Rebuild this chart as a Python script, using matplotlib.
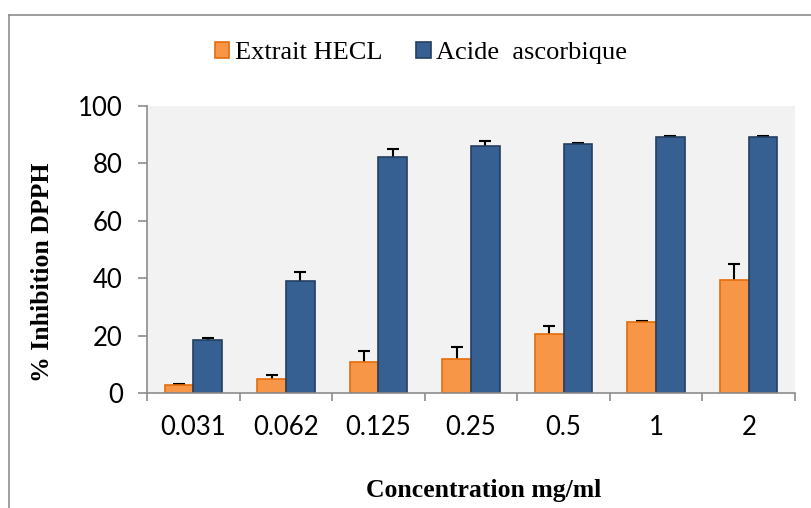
import matplotlib
matplotlib.use("Agg")
import matplotlib.pyplot as plt
import numpy as np
from matplotlib.patches import Patch
from matplotlib.lines import Line2D

categories = ["0.031", "0.062", "0.125", "0.25", "0.5", "1", "2"]
extrait = [2.9, 4.9, 10.8, 12.0, 20.5, 24.8, 39.4]
extrait_err = [0.3, 1.2, 4.0, 4.0, 2.7, 0.2, 5.4]
acide = [18.3, 38.9, 82.4, 85.9, 86.9, 89.2, 89.2]
acide_err = [0.7, 3.3, 2.5, 1.8, 0.2, 0.2, 0.2]

serif = ["Liberation Serif", "DejaVu Serif"]
sans = ["Lato", "DejaVu Sans"]

fig = plt.figure(figsize=(8.11, 5.08), dpi=100)
ax = fig.add_axes([147 / 811, 1 - 393 / 508, 648 / 811, 287 / 508])
ax.set_facecolor("#F2F2F2")

x = np.arange(len(categories))
w = 0.31
# symmetric error bars drawn under the bars, so only the upper half shows
ax.bar(x - w / 2, extrait, w, color="#F79646", edgecolor="#E46C0A", linewidth=1.2, zorder=3)
ax.bar(x + w / 2, acide, w, color="#376092", edgecolor="#243F60", linewidth=1.2, zorder=3)
ax.errorbar(x - w / 2, extrait, yerr=extrait_err, fmt="none",
            ecolor="black", elinewidth=1.5, capsize=4, capthick=1.5, zorder=2)
ax.errorbar(x + w / 2, acide, yerr=acide_err, fmt="none",
            ecolor="black", elinewidth=1.5, capsize=4, capthick=1.5, zorder=2)

ax.set_xlim(-0.5, len(categories) - 0.5)
ax.set_ylim(0, 100)
ax.set_yticks(np.arange(0, 101, 20))
ax.set_xticks(np.arange(-0.5, len(categories), 1.0))
ax.set_xticklabels([])
ax.set_xticks(x, minor=True)
ax.set_xticklabels(categories, minor=True, family=sans, fontsize=18.5)
for lab in ax.get_yticklabels():
    lab.set_family(sans)
    lab.set_fontsize(18.5)
ax.tick_params(axis="x", which="major", direction="out", length=6, width=1.2, color="#8C8C8C")
ax.tick_params(axis="x", which="minor", length=0, pad=16)
ax.tick_params(axis="y", direction="out", length=6.5, width=1.2, color="#8C8C8C", pad=11)

for side in ["top", "right"]:
    ax.spines[side].set_visible(False)
for side in ["left", "bottom"]:
    ax.spines[side].set_color("#8C8C8C")
    ax.spines[side].set_linewidth(1.2)
    ax.spines[side].set_zorder(4)

fig.text(43 / 811, 1 - 272 / 508, "% Inhibition DPPH", rotation=90, ha="center", va="center",
         family=serif, fontweight="bold", fontsize=18.5)
fig.text(484 / 811, 1 - 490 / 508, "Concentration mg/ml", ha="center", va="center",
         family=serif, fontweight="bold", fontsize=18.5)

handles = [Patch(facecolor="#F79646", edgecolor="#E46C0A", linewidth=1.2),
           Patch(facecolor="#376092", edgecolor="#243F60", linewidth=1.2)]
fig.legend(handles, ["Extrait HECL", "Acide  ascorbique"], loc="center",
           bbox_to_anchor=(421 / 811, 1 - 53 / 508), ncol=2, frameon=False,
           prop={"family": serif, "size": 19}, handlelength=0.55, handleheight=0.55,
           handletextpad=0.2, columnspacing=1.3)

# outer chart border (only top and left visible in the crop)
fig.add_artist(Line2D([9 / 811, 1.0], [1 - 15 / 508, 1 - 15 / 508], color="#8C8C8C", linewidth=1.2))
fig.add_artist(Line2D([9 / 811, 9 / 811], [0.0, 1 - 15 / 508], color="#8C8C8C", linewidth=1.2))

fig.savefig("out.png", dpi=100)
plt.close(fig)
